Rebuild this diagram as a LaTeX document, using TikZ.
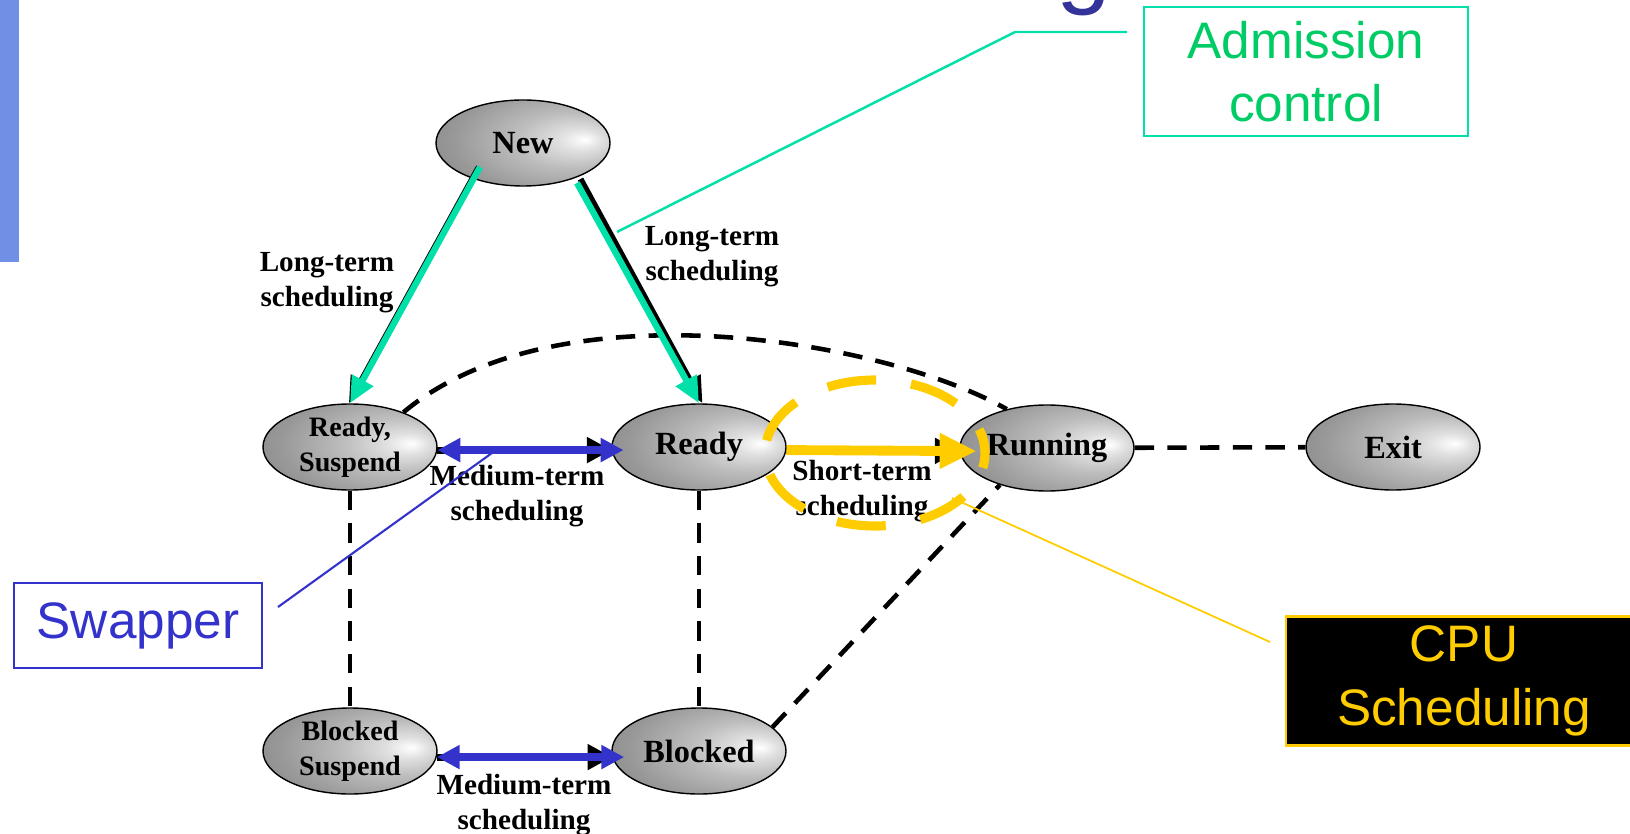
\documentclass[tikz,border=0pt]{standalone}
\usepackage{fontspec}
\setmainfont{Liberation Serif}
\newfontfamily\callfont{Liberation Sans}
\usetikzlibrary{arrows.meta,shapes.geometric}
\definecolor{mint}{HTML}{00E0A8}
\definecolor{admgreen}{HTML}{00CC66}
\definecolor{swapblue}{HTML}{3333CC}
\definecolor{cpuyellow}{HTML}{FFCC00}
\definecolor{titleblue}{HTML}{333399}
\definecolor{barblue}{HTML}{7090E6}
\pgfdeclareradialshading{stateball}{\pgfpoint{18bp}{2bp}}{color(0bp)=(white); color(6bp)=(white!88!black); color(16bp)=(white!74!black); color(30bp)=(white!60!black); color(50bp)=(white!46!black); color(70bp)=(white!40!black)}

\begin{document}
\begin{tikzpicture}[x=0.1mm,y=-0.1mm,
  state/.style={draw,ellipse,line width=0.4pt,shading=stateball,minimum width=17.4mm,minimum height=8.6mm,inner sep=0pt,align=center,font=\bfseries\fontsize{9.2}{10}\selectfont},
  smallstate/.style={state,inner sep=-1.5pt,font=\bfseries\fontsize{8}{10}\selectfont},
  lbl/.style={align=center,inner sep=0pt,font=\bfseries\fontsize{8.3}{10}\selectfont},
  link/.style={line width=1.3pt,dash pattern=on 5.5pt off 3.8pt},
  admit/.style={mint,line width=1.8pt,-{Triangle[length=7.5pt,width=6.5pt]}},
  under/.style={black,line width=1.7pt,-{Triangle[length=7.5pt,width=6.5pt]}},
  back/.style={black,line width=2pt,-{Triangle[length=7pt,width=7pt]}},
  swap/.style={swapblue,line width=2.3pt,{Triangle[length=6.5pt,width=6.5pt]}-{Triangle[length=6.5pt,width=6.5pt]}},
  cpu/.style={cpuyellow,line width=2.8pt,-{Triangle[length=10.5pt,width=9.5pt]}},
  callout/.style={rectangle,line width=0.6pt,inner sep=0pt,align=center,font=\callfont\fontsize{14.6}{18}\selectfont}]
\useasboundingbox (0,0) rectangle (1630,834);
\fill[barblue] (0,0) rectangle (19,262);
\node[anchor=base west,inner sep=0pt,text=titleblue,font=\callfont\fontsize{28}{28}\selectfont] (title) at (1056,-4) {g};

\node[state] (new) at (523,143) {New};
\node[smallstate] (rsusp) at (350,447) {Ready,\\Suspend};
\node[state] (ready) at (699,447) {Ready};
\node[state] (running) at (1047,448) {Running};
\node[state] (exit) at (1393,447) {Exit};
\node[smallstate] (bsusp) at (350,751) {Blocked\\Suspend};
\node[state] (blocked) at (699,751) {Blocked};

\path[draw,link] (rsusp) -- (bsusp);
\path[draw,link] (ready) -- (blocked);
\path[draw,link] (running) -- (exit);
\path[draw,link] (blocked.18) -- (running.218);
\path[draw,link] (rsusp.33) .. controls +(153,-128) and +(-124,-70) .. (running.136);

\path[draw,under,transform canvas={xshift=-0.12mm}] ([xshift=-4.3mm,yshift=-2.4mm]new.center) -- (rsusp.north);
\path[draw,admit] ([xshift=-4.3mm,yshift=-2.4mm]new.center) -- (rsusp.north);
\path[draw,under,transform canvas={xshift=0.35mm}] ([xshift=5.4mm,yshift=-3.6mm]new.center) -- (ready.north);
\path[draw,admit] ([xshift=5.4mm,yshift=-4mm]new.center) -- (ready.north);

\path[draw,back] (rsusp.-2) -- (ready.182);
\path[draw,swap,shorten >=-1.2mm] (rsusp.-2) -- (ready.182);
\path[draw,back] (bsusp.-4) -- (blocked.184);
\path[draw,swap,shorten >=-1.2mm] (bsusp.-4) -- (blocked.184);
\path[draw,back] (ready.-2) -- (running.182);
\path[draw,cpu,shorten >=-1.7mm] (ready.-2) -- (running.182);

\node[lbl] (lt1) at (327,283) {Long-term\\scheduling};
\node[lbl] (lt2) at (712,257) {Long-term\\scheduling};
\node[lbl] (mt1) at (517,496) {Medium-term\\scheduling};
\node[lbl] (st) at (862,491) {Short-term\\scheduling};
\node[lbl] (mt2) at (524,805) {Medium-term\\scheduling};

\node[draw=cpuyellow,ellipse,line width=2.6pt,dash pattern=on 14pt off 10pt,dash phase=7pt,minimum width=22mm,minimum height=14.6mm,inner sep=0pt] (cpuring) at (875,453) {};

\node[callout,draw=mint,text=admgreen,minimum width=32.4mm,minimum height=12.9mm] (admission) at (1306,71.5) {Admission\\control};
\node[callout,draw=swapblue,text=swapblue,minimum width=24.8mm,minimum height=8.5mm] (swapper) at (138,625.5) {Swapper};
\node[callout,draw=cpuyellow,fill=black,text=cpuyellow,minimum width=35.6mm,minimum height=12.9mm] (cpubox) at (1464,681) {CPU\\Scheduling};

\coordinate (admend) at (1127,32);
\coordinate (admknee) at (1015,32);
\coordinate (admtip) at (617,232);
\coordinate (swapend) at (278,607);
\coordinate (swaptip) at (492,453);
\coordinate (cpuend) at (1270,642);
\coordinate (cputip) at (952,498);
\path[draw,mint,line width=0.7pt] (admend) -- (admknee) -- (admtip);
\path[draw,swapblue,line width=0.6pt] (swapend) -- (swaptip);
\path[draw,cpuyellow,line width=0.5pt] (cpuend) -- (cputip);
\end{tikzpicture}
\end{document}
